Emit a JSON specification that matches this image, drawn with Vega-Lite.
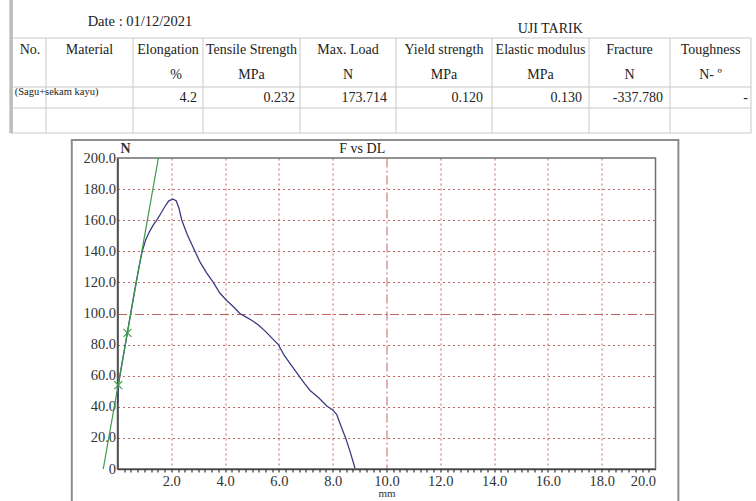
{
  "$schema": "https://vega.github.io/schema/vega-lite/v6.json",
  "width": 538,
  "height": 311,
  "autosize": "none",
  "padding": {"left": 117.5, "top": 158, "right": 100.5, "bottom": 32},
  "background": "#ffffff",
  "config": {
    "font": "Liberation Serif",
    "view": {"stroke": "#6f6f6f", "strokeWidth": 1.5},
    "text": {"font": "Liberation Serif", "color": "#222222"}
  },
  "datasets": {
    "curve": [
      {"dl": 0.0, "f": 42}, {"dl": 0.03, "f": 54}, {"dl": 0.2, "f": 71}, {"dl": 0.37, "f": 88},
      {"dl": 0.5, "f": 101}, {"dl": 0.65, "f": 116}, {"dl": 0.8, "f": 130}, {"dl": 0.92, "f": 140},
      {"dl": 1.05, "f": 147.5}, {"dl": 1.2, "f": 153}, {"dl": 1.35, "f": 157.5}, {"dl": 1.46, "f": 160},
      {"dl": 1.6, "f": 164}, {"dl": 1.75, "f": 168.5}, {"dl": 1.9, "f": 172.3}, {"dl": 2.05, "f": 173.7},
      {"dl": 2.18, "f": 172.5}, {"dl": 2.28, "f": 168}, {"dl": 2.39, "f": 160}, {"dl": 2.6, "f": 150.5},
      {"dl": 2.88, "f": 140}, {"dl": 3.07, "f": 133}, {"dl": 3.3, "f": 126.5}, {"dl": 3.56, "f": 120},
      {"dl": 3.81, "f": 113}, {"dl": 4.05, "f": 108.5}, {"dl": 4.3, "f": 104.5}, {"dl": 4.55, "f": 100},
      {"dl": 4.8, "f": 97.5}, {"dl": 5.0, "f": 95.5}, {"dl": 5.25, "f": 92.5}, {"dl": 5.5, "f": 88.5},
      {"dl": 5.75, "f": 84}, {"dl": 5.98, "f": 80}, {"dl": 6.2, "f": 73}, {"dl": 6.41, "f": 68},
      {"dl": 6.72, "f": 60.5}, {"dl": 6.95, "f": 55}, {"dl": 7.16, "f": 50.5}, {"dl": 7.5, "f": 45.5},
      {"dl": 7.78, "f": 40.5}, {"dl": 8.0, "f": 38}, {"dl": 8.15, "f": 35}, {"dl": 8.3, "f": 28},
      {"dl": 8.48, "f": 20}, {"dl": 8.65, "f": 11}, {"dl": 8.83, "f": 0.5}
    ],
    "fit": [{"dl": -0.53, "f": 0}, {"dl": 1.52, "f": 200}],
    "marks": [{"dl": 0.03, "f": 54}, {"dl": 0.37, "f": 87.5}],
    "header": [
      {"col": 1, "line": 0.5, "label": "No."},
      {"col": 2, "line": 0.5, "label": "Material"},
      {"col": 3, "line": 0.5, "label": "Elongation"},
      {"col": 4, "line": 0.5, "label": "Tensile Strength"},
      {"col": 4, "line": 1.5, "label": "MPa"},
      {"col": 5, "line": 0.5, "label": "Max. Load"},
      {"col": 5, "line": 1.5, "label": "N"},
      {"col": 6, "line": 0.5, "label": "Yield strength"},
      {"col": 6, "line": 1.5, "label": "MPa"},
      {"col": 7, "line": 0.5, "label": "Elastic modulus"},
      {"col": 7, "line": 1.5, "label": "MPa"},
      {"col": 8, "line": 0.5, "label": "Fracture"},
      {"col": 8, "line": 1.5, "label": "N"},
      {"col": 9, "line": 0.5, "label": "Toughness"},
      {"col": 9, "line": 1.5, "label": "N- º"}
    ],
    "values": [
      {"col": 3, "value": "4.2"},
      {"col": 4, "value": "0.232"},
      {"col": 5, "value": "173.714"},
      {"col": 6, "value": "0.120"},
      {"col": 7, "value": "0.130"},
      {"col": 8, "value": "-337.780"},
      {"col": 9, "value": "-"}
    ],
    "hlines": [{"r": 0}, {"r": 2}, {"r": 3}, {"r": 4}],
    "vlines": [{"c": 1.5}, {"c": 2.5}, {"c": 3.5}, {"c": 4.5}, {"c": 5.5}, {"c": 6.5}, {"c": 7.5}, {"c": 8.5}, {"c": 9.5}]
  },
  "layer": [
    {
      "layer": [
        {
          "data": {"values": [{"k": "frame"}]},
          "mark": {"type": "rect", "filled": false, "stroke": "#8d8d8d", "strokeWidth": 2, "clip": false},
          "encoding": {
            "x": {"datum": -1.7, "type": "quantitative", "scale": {"domain": [0, 20], "nice": false, "zero": false}},
            "x2": {"datum": 20.85},
            "y": {"datum": 211.6, "type": "quantitative", "scale": {"domain": [0, 200], "nice": false, "zero": false}},
            "y2": {"datum": -30}
          }
        },
        {
          "data": {"name": "curve"},
          "mark": {"type": "line", "color": "#3b3b86", "strokeWidth": 1.3},
          "encoding": {
            "x": {
              "field": "dl", "type": "quantitative",
              "scale": {"domain": [0, 20], "nice": false, "zero": false},
              "axis": {
                "values": [0, 2, 4, 6, 8, 10, 12, 14, 16, 18, 20],
                "title": "mm", "titleFontSize": 11, "titleFontWeight": "normal", "titleColor": "#333333", "titlePadding": 0,
                "labelExpr": "datum.value == 0 ? '' : format(datum.value, '.1f')",
                "labelFontSize": 14.5, "labelColor": "#333333", "labelPadding": 5, "labelFont": "Liberation Serif", "labelOverlap": false,
                "ticks": false, "domain": true, "domainColor": "#444444", "domainWidth": 1.5,
                "grid": true, "gridColor": "#b94a4a", "gridWidth": 1,
                "gridDash": {"condition": {"test": "datum.value == 10", "value": [9, 3, 2, 3]}, "value": [2, 3]},
                "gridOpacity": {"condition": {"test": "datum.value == 0 || datum.value == 20", "value": 0}, "value": 0.85}
              }
            },
            "y": {
              "field": "f", "type": "quantitative",
              "scale": {"domain": [0, 200], "nice": false, "zero": false},
              "axis": {
                "values": [0, 20, 40, 60, 80, 100, 120, 140, 160, 180, 200],
                "tickCount": 11, "labelOverlap": false,
                "title": "N", "titleAngle": 0, "titleX": 2.5, "titleY": -6, "titleAlign": "left", "titleBaseline": "alphabetic",
                "titleFontSize": 14, "titleFontWeight": "bold", "titleColor": "#333333", "titleFont": "Liberation Serif",
                "labelExpr": "datum.value == 0 ? '0' : format(datum.value, '.1f')",
                "labelFontSize": 14.5, "labelColor": "#333333", "labelPadding": 2, "labelFont": "Liberation Serif",
                "ticks": false, "domain": true, "domainColor": "#444444", "domainWidth": 1.5,
                "grid": true, "gridColor": "#b94a4a", "gridWidth": 1,
                "gridDash": {"condition": {"test": "datum.value == 100", "value": [9, 3, 2, 3]}, "value": [2, 3]},
                "gridOpacity": {"condition": {"test": "datum.value == 0 || datum.value == 200", "value": 0}, "value": 0.85}
              }
            }
          }
        },
        {
          "data": {"name": "fit"},
          "mark": {"type": "line", "color": "#3c9a46", "strokeWidth": 1.2, "clip": false},
          "encoding": {
            "x": {"field": "dl", "type": "quantitative", "scale": {"domain": [0, 20], "nice": false, "zero": false}},
            "y": {"field": "f", "type": "quantitative", "scale": {"domain": [0, 200], "nice": false, "zero": false}}
          }
        },
        {
          "data": {"name": "marks"},
          "mark": {"type": "point", "shape": "M-1,-1L1,1M-1,1L1,-1", "filled": false, "stroke": "#3c9a46", "strokeWidth": 1.1, "size": 64, "opacity": 1, "clip": false},
          "encoding": {
            "x": {"field": "dl", "type": "quantitative", "scale": {"domain": [0, 20], "nice": false, "zero": false}},
            "y": {"field": "f", "type": "quantitative", "scale": {"domain": [0, 200], "nice": false, "zero": false}}
          }
        },
        {
          "data": {"values": [{"t": "F vs DL"}]},
          "mark": {"type": "text", "fontSize": 14, "color": "#222222", "align": "center", "baseline": "middle", "clip": false},
          "encoding": {
            "x": {"datum": 9.1, "type": "quantitative", "scale": {"domain": [0, 20], "nice": false, "zero": false}},
            "y": {"datum": 205.8, "type": "quantitative", "scale": {"domain": [0, 200], "nice": false, "zero": false}},
            "text": {"field": "t"}
          }
        }
      ]
    },
    {
      "data": {"values": [{"v": 0}]},
      "mark": {"type": "point", "opacity": 0},
      "encoding": {
        "x": {
          "field": "v", "type": "quantitative",
          "scale": {"domain": [0, 20], "nice": false, "zero": false},
          "axis": {
            "orient": "bottom", "title": null, "labels": false, "domain": false, "grid": false,
            "ticks": true, "tickSize": 3, "tickColor": "#333333", "tickWidth": 1.2, "labelOverlap": false,
            "values": [0.25,0.5,0.75,1,1.25,1.5,1.75,2,2.25,2.5,2.75,3,3.25,3.5,3.75,4,4.25,4.5,4.75,5,5.25,5.5,5.75,6,6.25,6.5,6.75,7,7.25,7.5,7.75,8,8.25,8.5,8.75,9,9.25,9.5,9.75,10,10.25,10.5,10.75,11,11.25,11.5,11.75,12,12.25,12.5,12.75,13,13.25,13.5,13.75,14,14.25,14.5,14.75,15,15.25,15.5,15.75,16,16.25,16.5,16.75,17,17.25,17.5,17.75,18,18.25,18.5,18.75,19,19.25,19.5,19.75]
          }
        }
      }
    },
    {
      "layer": [
        {
          "data": {"name": "hlines"},
          "mark": {"type": "rule", "color": "#c9c9c9", "strokeWidth": 1, "clip": false},
          "encoding": {
            "x": {"datum": 0.41, "type": "quantitative", "scale": {"domain": [0.5,1.5,2.5,3.5,4.5,5.5,6.5,7.5,8.5,9.5], "range": [-103.5,-71.5,15.5,85.5,182.5,278.5,374.5,471.5,552.5,633.5], "nice": false, "zero": false}, "axis": null},
            "x2": {"datum": 9.5},
            "y": {"field": "r", "type": "quantitative", "scale": {"domain": [0, 2, 3, 4], "range": [-120, -71, -50, -25], "nice": false, "zero": false}, "axis": null}
          }
        },
        {
          "data": {"name": "vlines"},
          "mark": {"type": "rule", "color": "#c9c9c9", "strokeWidth": 1, "clip": false},
          "encoding": {
            "x": {"field": "c", "type": "quantitative", "scale": {"domain": [0.5,1.5,2.5,3.5,4.5,5.5,6.5,7.5,8.5,9.5], "range": [-103.5,-71.5,15.5,85.5,182.5,278.5,374.5,471.5,552.5,633.5], "nice": false, "zero": false}, "axis": null},
            "y": {"datum": 0, "type": "quantitative", "scale": {"domain": [0, 2, 3, 4], "range": [-120, -71, -50, -25], "nice": false, "zero": false}, "axis": null},
            "y2": {"datum": 4}
          }
        },
        {
          "data": {"values": [{"k": "bar"}]},
          "mark": {"type": "rule", "color": "#bdbdbd", "strokeWidth": 3.5, "clip": false},
          "encoding": {
            "x": {"datum": 0.41, "type": "quantitative", "scale": {"domain": [0.5,1.5,2.5,3.5,4.5,5.5,6.5,7.5,8.5,9.5], "range": [-103.5,-71.5,15.5,85.5,182.5,278.5,374.5,471.5,552.5,633.5], "nice": false, "zero": false}, "axis": null},
            "y": {"datum": -1.6, "type": "quantitative", "scale": {"domain": [0, 2, 3, 4], "range": [-120, -71, -50, -25], "nice": false, "zero": false}, "axis": null},
            "y2": {"datum": 4}
          }
        },
        {
          "data": {"name": "header"},
          "mark": {"type": "text", "fontSize": 14, "color": "#222222", "align": "center", "baseline": "middle", "clip": false},
          "encoding": {
            "x": {"field": "col", "type": "quantitative", "scale": {"domain": [0.5,1.5,2.5,3.5,4.5,5.5,6.5,7.5,8.5,9.5], "range": [-103.5,-71.5,15.5,85.5,182.5,278.5,374.5,471.5,552.5,633.5], "nice": false, "zero": false}, "axis": null},
            "y": {"field": "line", "type": "quantitative", "scale": {"domain": [0, 2, 3, 4], "range": [-120, -71, -50, -25], "nice": false, "zero": false}, "axis": null},
            "text": {"field": "label"}
          }
        },
        {
          "data": {"values": [{"label": "%"}]},
          "mark": {"type": "text", "fontSize": 14, "color": "#222222", "align": "center", "baseline": "middle", "dx": 8, "clip": false},
          "encoding": {
            "x": {"datum": 3, "type": "quantitative", "scale": {"domain": [0.5,1.5,2.5,3.5,4.5,5.5,6.5,7.5,8.5,9.5], "range": [-103.5,-71.5,15.5,85.5,182.5,278.5,374.5,471.5,552.5,633.5], "nice": false, "zero": false}, "axis": null},
            "y": {"datum": 1.5, "type": "quantitative", "scale": {"domain": [0, 2, 3, 4], "range": [-120, -71, -50, -25], "nice": false, "zero": false}, "axis": null},
            "text": {"field": "label"}
          }
        },
        {
          "data": {"values": [{"material": "(Sagu+sekam kayu)"}]},
          "mark": {"type": "text", "fontSize": 10.5, "color": "#222222", "align": "left", "baseline": "middle", "clip": false},
          "encoding": {
            "x": {"datum": 0.52, "type": "quantitative", "scale": {"domain": [0.5,1.5,2.5,3.5,4.5,5.5,6.5,7.5,8.5,9.5], "range": [-103.5,-71.5,15.5,85.5,182.5,278.5,374.5,471.5,552.5,633.5], "nice": false, "zero": false}, "axis": null},
            "y": {"datum": 2.25, "type": "quantitative", "scale": {"domain": [0, 2, 3, 4], "range": [-120, -71, -50, -25], "nice": false, "zero": false}, "axis": null},
            "text": {"field": "material"}
          }
        },
        {
          "data": {"values": [{"t": "Date : 01/12/2021"}]},
          "mark": {"type": "text", "fontSize": 14.5, "color": "#222222", "align": "center", "baseline": "middle", "clip": false},
          "encoding": {
            "x": {"datum": 2.6, "type": "quantitative", "scale": {"domain": [0.5,1.5,2.5,3.5,4.5,5.5,6.5,7.5,8.5,9.5], "range": [-103.5,-71.5,15.5,85.5,182.5,278.5,374.5,471.5,552.5,633.5], "nice": false, "zero": false}, "axis": null},
            "y": {"datum": -0.65, "type": "quantitative", "scale": {"domain": [0, 2, 3, 4], "range": [-120, -71, -50, -25], "nice": false, "zero": false}, "axis": null},
            "text": {"field": "t"}
          }
        },
        {
          "data": {"values": [{"t": "UJI TARIK"}]},
          "mark": {"type": "text", "fontSize": 14, "color": "#222222", "align": "center", "baseline": "middle", "clip": false},
          "encoding": {
            "x": {"datum": 7.1, "type": "quantitative", "scale": {"domain": [0.5,1.5,2.5,3.5,4.5,5.5,6.5,7.5,8.5,9.5], "range": [-103.5,-71.5,15.5,85.5,182.5,278.5,374.5,471.5,552.5,633.5], "nice": false, "zero": false}, "axis": null},
            "y": {"datum": -0.37, "type": "quantitative", "scale": {"domain": [0, 2, 3, 4], "range": [-120, -71, -50, -25], "nice": false, "zero": false}, "axis": null},
            "text": {"field": "t"}
          }
        }
      ]
    },
    {
      "data": {"name": "values"},
      "mark": {"type": "text", "fontSize": 14, "color": "#222222", "align": "right", "baseline": "middle", "clip": false},
      "encoding": {
        "x": {"field": "col", "type": "quantitative", "scale": {"domain": [3, 4, 5, 6, 7, 8, 9], "range": [79.5, 177.5, 269.5, 365.5, 464.5, 545.5, 630.5], "nice": false, "zero": false}, "axis": null},
        "y": {"datum": 2.5, "type": "quantitative", "scale": {"domain": [0, 2, 3, 4], "range": [-120, -71, -50, -25], "nice": false, "zero": false}, "axis": null},
        "text": {"field": "value"}
      }
    }
  ],
  "resolve": {"scale": {"x": "independent", "y": "independent"}}
}
